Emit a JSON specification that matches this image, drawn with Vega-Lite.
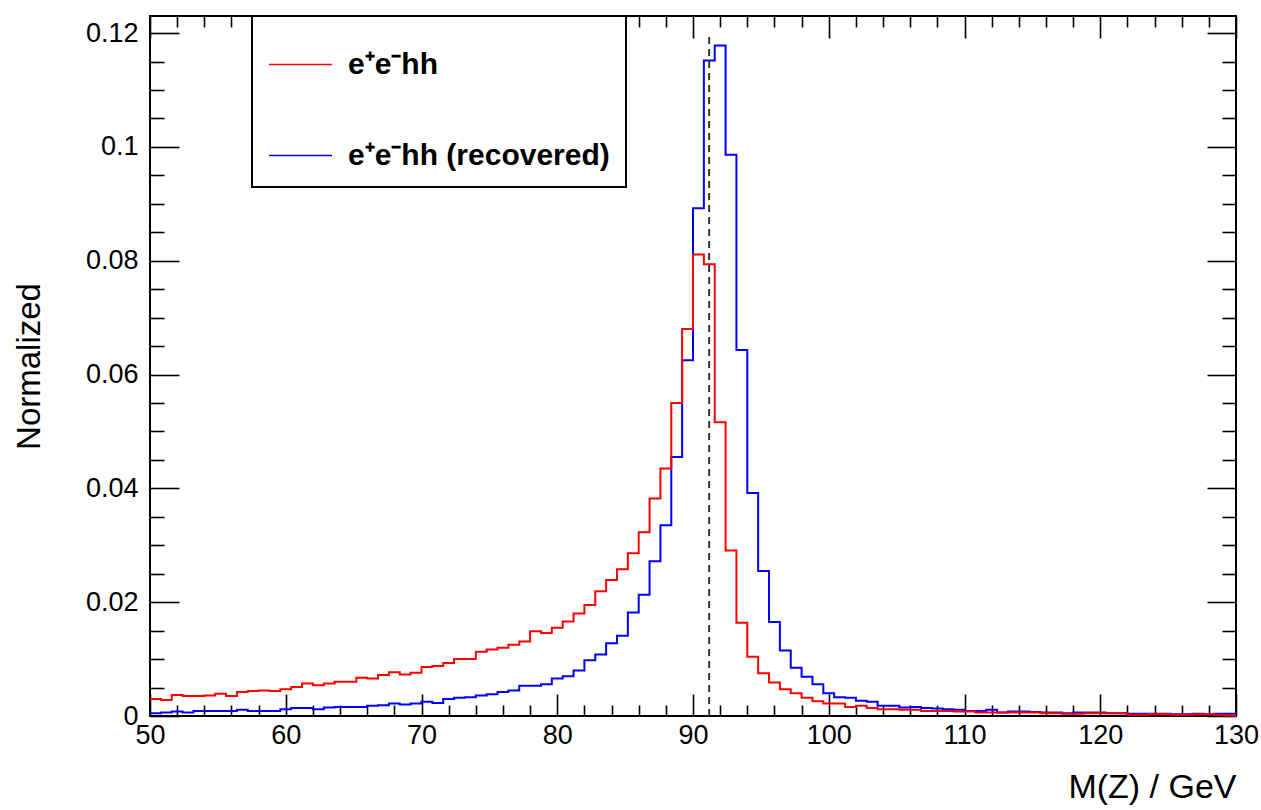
{
  "$schema": "https://vega.github.io/schema/vega-lite/v6.json",
  "width": 1086,
  "height": 700,
  "autosize": {"type": "none"},
  "padding": {"left": 150, "top": 16, "right": 25, "bottom": 94},
  "background": "white",
  "config": {
    "font": "Liberation Sans",
    "view": {"stroke": "black", "strokeWidth": 2},
    "axis": {"labelFont": "Liberation Sans", "titleFont": "Liberation Sans", "labelColor": "black", "titleColor": "black", "tickColor": "black", "tickWidth": 1.6, "domain": false, "grid": false},
    "legend": {
      "orient": "none", "legendX": 102, "legendY": 0,
      "symbolType": "stroke", "symbolSize": 3969, "symbolStrokeWidth": 1.5,
      "labelFont": "Liberation Sans", "labelFontSize": 30, "labelFontWeight": "bold", "labelColor": "black",
      "labelOffset": 15, "labelLimit": 0, "padding": 16, "rowPadding": 43,
      "fillColor": "white", "strokeColor": "black", "strokeWidth": 2
    }
  },
  "datasets": {
    "hist": [
      {"m":50,"r":0.0030,"b":0.0005},{"m":50.8,"r":0.0028,"b":0.0006},{"m":51.6,"r":0.0037,"b":0.0008},{"m":52.4,"r":0.0035,"b":0.0006},{"m":53.2,"r":0.0035,"b":0.0009},
      {"m":54,"r":0.0036,"b":0.0009},{"m":54.8,"r":0.0039,"b":0.0009},{"m":55.6,"r":0.0035,"b":0.0009},{"m":56.4,"r":0.0042,"b":0.0011},{"m":57.2,"r":0.0044,"b":0.0009},
      {"m":58,"r":0.0045,"b":0.0009},{"m":58.8,"r":0.0044,"b":0.0009},{"m":59.6,"r":0.0047,"b":0.0012},{"m":60.4,"r":0.0051,"b":0.0014},{"m":61.2,"r":0.0057,"b":0.0014},
      {"m":62,"r":0.0054,"b":0.0012},{"m":62.8,"r":0.0057,"b":0.0015},{"m":63.6,"r":0.0060,"b":0.0016},{"m":64.4,"r":0.0060,"b":0.0016},{"m":65.2,"r":0.0067,"b":0.0016},
      {"m":66,"r":0.0066,"b":0.0018},{"m":66.8,"r":0.0072,"b":0.0019},{"m":67.6,"r":0.0077,"b":0.0022},{"m":68.4,"r":0.0073,"b":0.0020},{"m":69.2,"r":0.0076,"b":0.0022},
      {"m":70,"r":0.0086,"b":0.0025},{"m":70.8,"r":0.0088,"b":0.0023},{"m":71.6,"r":0.0093,"b":0.0030},{"m":72.4,"r":0.0100,"b":0.0032},{"m":73.2,"r":0.0100,"b":0.0033},
      {"m":74,"r":0.0113,"b":0.0036},{"m":74.8,"r":0.0117,"b":0.0038},{"m":75.6,"r":0.0120,"b":0.0042},{"m":76.4,"r":0.0125,"b":0.0045},{"m":77.2,"r":0.0131,"b":0.0053},
      {"m":78,"r":0.0149,"b":0.0053},{"m":78.8,"r":0.0146,"b":0.0056},{"m":79.6,"r":0.0155,"b":0.0066},{"m":80.4,"r":0.0166,"b":0.0070},{"m":81.2,"r":0.0180,"b":0.0080},
      {"m":82,"r":0.0195,"b":0.0098},{"m":82.8,"r":0.0219,"b":0.0108},{"m":83.6,"r":0.0239,"b":0.0128},{"m":84.4,"r":0.0258,"b":0.0141},{"m":85.2,"r":0.0286,"b":0.0182},
      {"m":86,"r":0.0323,"b":0.0213},{"m":86.8,"r":0.0382,"b":0.0272},{"m":87.6,"r":0.0435,"b":0.0335},{"m":88.4,"r":0.0550,"b":0.0455},{"m":89.2,"r":0.0680,"b":0.0625},
      {"m":90,"r":0.0811,"b":0.0892},{"m":90.8,"r":0.0794,"b":0.1152},{"m":91.6,"r":0.0516,"b":0.1178},{"m":92.4,"r":0.0291,"b":0.0986},{"m":93.2,"r":0.0164,"b":0.0643},
      {"m":94,"r":0.0104,"b":0.0392},{"m":94.8,"r":0.0075,"b":0.0255},{"m":95.6,"r":0.0059,"b":0.0165},{"m":96.4,"r":0.0047,"b":0.0115},{"m":97.2,"r":0.0040,"b":0.0085},
      {"m":98,"r":0.0032,"b":0.0069},{"m":98.8,"r":0.0026,"b":0.0056},{"m":99.6,"r":0.0022,"b":0.0040},{"m":100.4,"r":0.0022,"b":0.0033},{"m":101.2,"r":0.0016,"b":0.0032},
      {"m":102,"r":0.0018,"b":0.0027},{"m":102.8,"r":0.0014,"b":0.0025},{"m":103.6,"r":0.0012,"b":0.0018},{"m":104.4,"r":0.0012,"b":0.0018},{"m":105.2,"r":0.0011,"b":0.0015},
      {"m":106,"r":0.0011,"b":0.0016},{"m":106.8,"r":0.0009,"b":0.0014},{"m":107.6,"r":0.0009,"b":0.0013},{"m":108.4,"r":0.0009,"b":0.0012},{"m":109.2,"r":0.0008,"b":0.0011},
      {"m":110,"r":0.0008,"b":0.0009},{"m":110.8,"r":0.0006,"b":0.0009},{"m":111.6,"r":0.0006,"b":0.0011},{"m":112.4,"r":0.0006,"b":0.0006},{"m":113.2,"r":0.0006,"b":0.0008},
      {"m":114,"r":0.0006,"b":0.0008},{"m":114.8,"r":0.0006,"b":0.0007},{"m":115.6,"r":0.0005,"b":0.0006},{"m":116.4,"r":0.0005,"b":0.0006},{"m":117.2,"r":0.0004,"b":0.0005},
      {"m":118,"r":0.0004,"b":0.0006},{"m":118.8,"r":0.0005,"b":0.0006},{"m":119.6,"r":0.0005,"b":0.0006},{"m":120.4,"r":0.0005,"b":0.0005},{"m":121.2,"r":0.0005,"b":0.0005},
      {"m":122,"r":0.0002,"b":0.0004},{"m":122.8,"r":0.0002,"b":0.0004},{"m":123.6,"r":0.0003,"b":0.0004},{"m":124.4,"r":0.0003,"b":0.0004},{"m":125.2,"r":0.0002,"b":0.0003},
      {"m":126,"r":0.0002,"b":0.0003},{"m":126.8,"r":0.0003,"b":0.0004},{"m":127.6,"r":0.0003,"b":0.0003},{"m":128.4,"r":0.0002,"b":0.0004},{"m":129.2,"r":0.0001,"b":0.0004},
      {"m":130,"r":0.0001,"b":0.0004}
    ],
    "zmass": [{"mz": 91.19, "lo": 0, "hi": 0.12}]
  },
  "resolve": {"axis": {"x": "independent", "y": "independent"}},
  "layer": [
    {
      "data": {"name": "hist"},
      "mark": {"type": "line", "interpolate": "step-after", "strokeWidth": 2},
      "encoding": {
        "x": {"field": "m", "type": "quantitative",
          "scale": {"domain": [50, 130], "nice": false, "zero": false},
          "axis": {"orient": "top", "values": [50,52,54,56,58,60,62,64,66,68,70,72,74,76,78,80,82,84,86,88,90,92,94,96,98,100,102,104,106,108,110,112,114,116,118,120,122,124,126,128,130],
            "labels": false, "title": null, "tickSize": -22,
            "tickDash": {"condition": {"test": "datum.value % 10 == 0", "value": []}, "value": [11, 60]}}},
        "y": {"field": "b", "type": "quantitative",
          "scale": {"domain": [0, 0.123], "nice": false},
          "axis": {"orient": "right", "values": [0,0.005,0.01,0.015,0.02,0.025,0.03,0.035,0.04,0.045,0.05,0.055,0.06,0.065,0.07,0.075,0.08,0.085,0.09,0.095,0.1,0.105,0.11,0.115,0.12],
            "labels": false, "title": null, "tickSize": -29,
            "tickDash": {"condition": {"test": "round(datum.value*1000) % 20 == 0", "value": []}, "value": [14, 60]}}},
        "color": {"datum": "e⁺e⁻hh (recovered)", "type": "nominal",
          "scale": {"domain": ["e⁺e⁻hh", "e⁺e⁻hh (recovered)"], "range": ["#ff0000", "#0000ff"]},
          "legend": {"title": null}}
      }
    },
    {
      "data": {"name": "hist"},
      "mark": {"type": "line", "interpolate": "step-after", "strokeWidth": 2},
      "encoding": {
        "x": {"field": "m", "type": "quantitative",
          "axis": {"orient": "bottom", "values": [50,52,54,56,58,60,62,64,66,68,70,72,74,76,78,80,82,84,86,88,90,92,94,96,98,100,102,104,106,108,110,112,114,116,118,120,122,124,126,128,130],
            "format": "d", "labelExpr": "datum.value % 10 == 0 ? datum.label : ''",
            "tickSize": -22, "labelPadding": 28, "labelFontSize": 27, "labelFlush": false, "labelOverlap": false, "labelBound": false,
            "tickDash": {"condition": {"test": "datum.value % 10 == 0", "value": []}, "value": [11, 60]},
            "title": "M(Z) / GeV", "titleAnchor": "end", "titleFontSize": 34, "titleFontWeight": "normal", "titlePadding": 22}},
        "y": {"field": "r", "type": "quantitative",
          "axis": {"orient": "left", "values": [0,0.005,0.01,0.015,0.02,0.025,0.03,0.035,0.04,0.045,0.05,0.055,0.06,0.065,0.07,0.075,0.08,0.085,0.09,0.095,0.1,0.105,0.11,0.115,0.12],
            "labelExpr": "round(datum.value*1000) % 20 == 0 ? format(datum.value, '~g') : ''",
            "tickSize": -29, "labelPadding": 41, "labelFontSize": 27, "labelOverlap": false, "labelBound": false, "labelFlush": false,
            "tickDash": {"condition": {"test": "round(datum.value*1000) % 20 == 0", "value": []}, "value": [14, 60]},
            "title": "Normalized", "titleFontSize": 33, "titleFontWeight": "normal", "titlePadding": 39}},
        "color": {"datum": "e⁺e⁻hh", "type": "nominal", "legend": {"title": null}}
      }
    },
    {
      "data": {"name": "zmass"},
      "mark": {"type": "rule", "color": "#333333", "strokeWidth": 2, "strokeDash": [7, 5]},
      "encoding": {
        "x": {"field": "mz", "type": "quantitative", "axis": null},
        "y": {"field": "lo", "type": "quantitative", "axis": null},
        "y2": {"field": "hi"}
      }
    }
  ]
}
